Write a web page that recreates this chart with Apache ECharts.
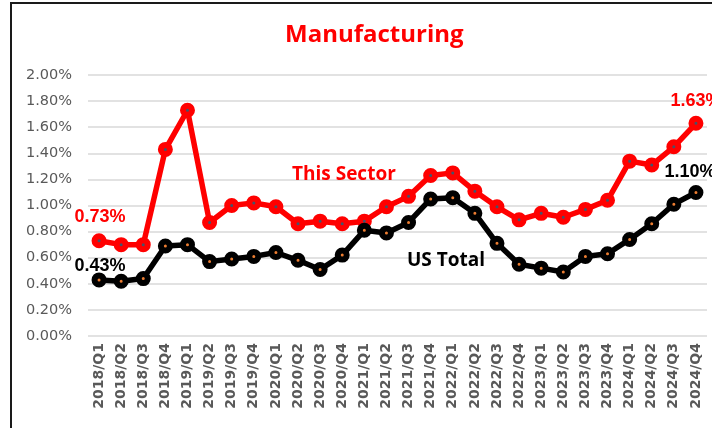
<!DOCTYPE html>
<html>
<head>
<meta charset="utf-8">
<script src="https://cdn.jsdelivr.net/npm/echarts@6/dist/echarts.min.js"></script>
<style>
  html, body { margin: 0; padding: 0; background: #ffffff; }
  #chart { width: 712px; height: 428px; }
</style>
</head>
<body>
<div id="chart"></div>
<script>
// quarters on the x axis
var quarters = [
  '2018/Q1', '2018/Q2', '2018/Q3', '2018/Q4',
  '2019/Q1', '2019/Q2', '2019/Q3', '2019/Q4',
  '2020/Q1', '2020/Q2', '2020/Q3', '2020/Q4',
  '2021/Q1', '2021/Q2', '2021/Q3', '2021/Q4',
  '2022/Q1', '2022/Q2', '2022/Q3', '2022/Q4',
  '2023/Q1', '2023/Q2', '2023/Q3', '2023/Q4',
  '2024/Q1', '2024/Q2', '2024/Q3', '2024/Q4'
]
// values in percent
var sectorValues = [
  0.73, 0.70, 0.70, 1.43,
  1.73, 0.87, 1.00, 1.02,
  0.99, 0.86, 0.88, 0.86,
  0.88, 0.99, 1.07, 1.23,
  1.25, 1.11, 0.99, 0.89,
  0.94, 0.91, 0.97, 1.04,
  1.34, 1.31, 1.45, 1.63
]
var usTotalValues = [
  0.43, 0.42, 0.44, 0.69,
  0.70, 0.57, 0.59, 0.61,
  0.64, 0.58, 0.51, 0.62,
  0.81, 0.79, 0.87, 1.05,
  1.06, 0.94, 0.71, 0.55,
  0.52, 0.49, 0.61, 0.63,
  0.74, 0.86, 1.01, 1.10
]
var yTicks = { min: 0, max: 2, interval: 0.2 }

// put a value label on the first and last point only
function endLabels (values, color, dist, lastOffset) {
  var last = values.length - 1
  return values.map(function (v, i) {
    if (i !== 0 && i !== last) return v
    return {
      value: v,
      label: {
        show: true,
        position: 'top',
        distance: dist[i === 0 ? 0 : 1],
        offset: i === 0 ? [1, 0] : lastOffset,
        formatter: v.toFixed(2) + '%',
        color: color,
        fontFamily: 'Liberation Sans, Arial, sans-serif',
        fontWeight: 'bold',
        fontSize: 18
      }
    }
  })
}

var chart = echarts.init(document.getElementById('chart'))
chart.setOption({
  animation: false,
  backgroundColor: '#ffffff',
  title: {
    text: 'Manufacturing',
    left: 280,
    top: 18,
    textStyle: {
      color: '#ff0000',
      fontFamily: 'Open Sans, sans-serif',
      fontWeight: 'bold',
      fontSize: 24
    }
  },
  grid: { left: 88, right: 5, top: 75, bottom: 92 },
  xAxis: {
    type: 'category',
    data: quarters,
    boundaryGap: true,
    axisLine: { show: false },
    axisTick: { show: false },
    axisLabel: {
      rotate: 90,
      interval: 0,
      margin: 7,
      color: '#595959',
      fontFamily: 'DejaVu Sans, sans-serif',
      fontWeight: 'bold',
      fontSize: 14
    }
  },
  yAxis: {
    type: 'value',
    min: yTicks.min,
    max: yTicks.max,
    interval: yTicks.interval,
    axisLine: { show: false },
    axisTick: { show: false },
    splitLine: { lineStyle: { color: '#d9d9d9', width: 1.5 } },
    axisLabel: {
      margin: 16,
      color: '#595959',
      fontFamily: 'DejaVu Sans, sans-serif',
      fontSize: 14.5,
      formatter: function (v) { return v.toFixed(2) + '%' }
    }
  },
  series: [
    {
      name: 'This Sector',
      type: 'line',
      data: endLabels(sectorValues, '#ff0000', [7, 6], [0, 0]),
      symbol: 'circle',
      symbolSize: 9,
      lineStyle: { color: '#ff0000', width: 5.5 },
      itemStyle: { color: '#44546a', borderColor: '#ff0000', borderWidth: 6 },
      z: 2
    },
    {
      name: 'US Total',
      type: 'line',
      data: endLabels(usTotalValues, '#000000', [-3, 4], [-6, 0]),
      symbol: 'circle',
      symbolSize: 9,
      lineStyle: { color: '#000000', width: 5.5 },
      itemStyle: { color: '#ed7d31', borderColor: '#000000', borderWidth: 6 },
      z: 3
    }
  ],
  graphic: [
    {
      type: 'polyline',
      shape: { points: [[11, 428], [11, 3], [712, 3]] },
      style: { stroke: '#1a1a1a', lineWidth: 2, fill: null },
      silent: true
    },
    {
      type: 'text',
      left: 292,
      top: 165,
      z: 100,
      style: {
        text: 'This Sector',
        fill: '#ff0000',
        font: 'bold 19px "Open Sans", sans-serif'
      }
    },
    {
      type: 'text',
      left: 407,
      top: 251,
      z: 100,
      style: {
        text: 'US Total',
        fill: '#000000',
        font: 'bold 19px "Open Sans", sans-serif'
      }
    }
  ]
})
</script>
</body>
</html>
